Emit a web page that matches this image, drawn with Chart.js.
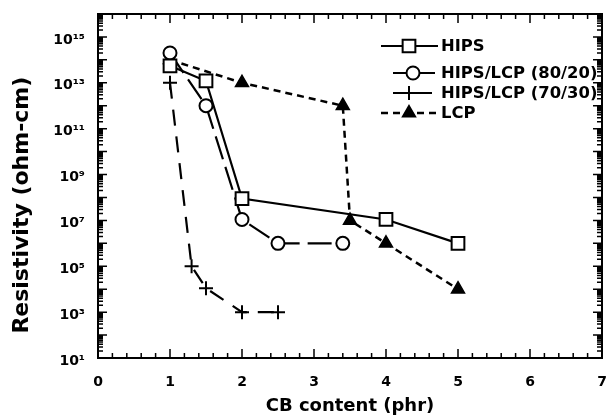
<!DOCTYPE html>
<html><head><meta charset="utf-8">
<script src="https://cdn.jsdelivr.net/npm/chart.js@4.4.0/dist/chart.umd.min.js"></script>
<style>html,body{margin:0;padding:0;background:#fff}canvas{display:block}</style>
</head><body>
<canvas id="c" width="613" height="417"></canvas>
<script>
// ---- data ----
const hipsX = [1, 1.5, 2, 4, 5];
const hipsY = [5.5e13, 1.2e13, 9e7, 1.1e7, 1e6];

const blend8020X = [1, 1.5, 2, 2.5, 3.4];
const blend8020Y = [2e14, 1e12, 1.1e7, 1e6, 1e6];

const blend7030X = [1, 1.3, 1.5, 2, 2.5];
const blend7030Y = [1e13, 1e5, 1.1e4, 1e3, 1e3];

const lcpX = [1, 2, 3.4, 3.5, 4, 5];
const lcpY = [1e14, 1e13, 1e12, 1e7, 1e6, 1e4];

const seriesLabels = ['HIPS', 'HIPS/LCP (80/20)', 'HIPS/LCP (70/30)', 'LCP'];
const xTickValues = [0, 1, 2, 3, 4, 5, 6, 7];
const yTickExponents = [1, 3, 5, 7, 9, 11, 13, 15];

// ---- helpers ----
const FONT = 'DejaVu Sans';
function sup(n){const m='⁰¹²³⁴⁵⁶⁷⁸⁹';return String(n).split('').map(d=>m[+d]).join('');}
const pts = (xs, ys) => xs.map((x,i)=>({x, y: ys[i]}));

function drawMarker(ctx, style, x, y, r, fill, lw){
  ctx.save();
  ctx.lineWidth = lw; ctx.strokeStyle = '#000'; ctx.fillStyle = fill; ctx.setLineDash([]);
  ctx.beginPath();
  if (style === 'rect'){ const s = r*Math.SQRT1_2; ctx.rect(x-s, y-s, 2*s, 2*s); ctx.fill(); ctx.stroke(); }
  else if (style === 'circle'){ ctx.arc(x, y, r, 0, Math.PI*2); ctx.fill(); ctx.stroke(); }
  else if (style === 'triangle'){
    for (let k=0;k<3;k++){ const a = k*2*Math.PI/3; const px = x+Math.sin(a)*r, py = y-Math.cos(a)*r; k?ctx.lineTo(px,py):ctx.moveTo(px,py);} 
    ctx.closePath(); ctx.fill(); ctx.stroke(); }
  else if (style === 'cross'){ ctx.moveTo(x-r,y); ctx.lineTo(x+r,y); ctx.moveTo(x,y-r); ctx.lineTo(x,y+r); ctx.stroke(); }
  ctx.restore();
}

const datasets = [
  {label: seriesLabels[0], data: pts(hipsX, hipsY), borderColor:'#000', borderWidth:2.2,
   pointStyle:'rect', pointRadius:9, pointBackgroundColor:'#fff', pointBorderColor:'#000', pointBorderWidth:2, legendDash:[]},
  {label: seriesLabels[1], data: pts(blend8020X, blend8020Y), borderColor:'#000', borderWidth:2.2, borderDash:[24,8],
   pointStyle:'circle', pointRadius:6.5, pointBackgroundColor:'#fff', pointBorderColor:'#000', pointBorderWidth:2, legendDash:[]},
  {label: seriesLabels[2], data: pts(blend7030X, blend7030Y), borderColor:'#000', borderWidth:2.2, borderDash:[16,11],
   pointStyle:'cross', pointRadius:7, pointBackgroundColor:'#000', pointBorderColor:'#000', pointBorderWidth:2, legendDash:[]},
  {label: seriesLabels[3], data: pts(lcpX, lcpY), borderColor:'#000', borderWidth:2.5, borderDash:[7,5],
   pointStyle:'triangle', pointRadius:7.5, pointBackgroundColor:'#000', pointBorderColor:'#000', pointBorderWidth:1.5, legendDash:[7,5]}
];

// legend layout (inside plot, upper right)
const legendLayout = {
  textX: 441,
  rows: [
    {y:46, x1:381, x2:438, mx:409, r:9},
    {y:73, x1:393, x2:435, mx:413, r:6.5},
    {y:93, x1:393, x2:432, mx:409, r:7},
    {y:113, x1:381, x2:438, mx:409, r:7.5}
  ]
};

const framePlugin = {
  id: 'frame',
  beforeDraw(chart){
    const ctx = chart.ctx; ctx.save(); ctx.fillStyle='#fff'; ctx.fillRect(0,0,chart.width,chart.height); ctx.restore();
  },
  afterDraw(chart){
    const ctx = chart.ctx, a = chart.chartArea, xs = chart.scales.x, ys = chart.scales.y;
    ctx.save();
    ctx.strokeStyle = '#000'; ctx.lineWidth = 2; ctx.setLineDash([]);
    ctx.strokeRect(a.left, a.top, a.right-a.left, a.bottom-a.top);
    ctx.lineWidth = 1.5;
    ctx.beginPath();
    // x ticks (inward, top and bottom), every 0.2
    for (let i=0;i<=35;i++){
      const v = i/5, px = xs.getPixelForValue(v), L = (i%5===0)?9:5;
      ctx.moveTo(px, a.bottom); ctx.lineTo(px, a.bottom-L);
      ctx.moveTo(px, a.top); ctx.lineTo(px, a.top+L);
    }
    // y ticks (inward, left and right), log minor ticks
    for (let e=1;e<=16;e++){
      for (let m=1;m<=9;m++){
        const v = m*Math.pow(10,e); if (v>ys.max*1.0001) break;
        const py = ys.getPixelForValue(v), L = (m===1)?9:5;
        ctx.moveTo(a.left, py); ctx.lineTo(a.left+L, py);
        ctx.moveTo(a.right, py); ctx.lineTo(a.right-L, py);
      }
    }
    ctx.stroke();

    // legend
    ctx.font = 'bold 16.4px "' + FONT + '"';
    ctx.textBaseline = 'middle'; ctx.textAlign = 'left'; ctx.fillStyle = '#000';
    chart.data.datasets.forEach((ds, i) => {
      const row = legendLayout.rows[i];
      ctx.save();
      ctx.lineWidth = ds.borderWidth; ctx.strokeStyle = '#000';
      ctx.setLineDash(ds.legendDash || []);
      ctx.beginPath(); ctx.moveTo(row.x1, row.y); ctx.lineTo(row.x2, row.y); ctx.stroke();
      ctx.restore();
      drawMarker(ctx, ds.pointStyle, row.mx, row.y, row.r, ds.pointBackgroundColor, ds.pointBorderWidth);
      ctx.fillText(ds.label, legendLayout.textX, row.y + 1);
    });
    ctx.restore();
  }
};

new Chart(document.getElementById('c'), {
  type: 'line',
  data: { datasets },
  options: {
    responsive: false, animation: false, devicePixelRatio: 1,
    layout: { padding: { top: 14, right: 3, left: 0, bottom: 0 } },
    plugins: { legend: { display: false }, tooltip: { enabled: false } },
    elements: { line: { tension: 0, fill: false } },
    scales: {
      x: {
        type: 'linear', min: 0, max: 7,
        afterBuildTicks(s){ s.ticks = xTickValues.map(v => ({value: v})); },
        ticks: { padding: 16, maxRotation: 0, color: '#000', font: { family: FONT, weight: 'bold', size: 14 } },
        grid: { display: false, drawTicks: false }, border: { display: false },
        title: { display: true, text: 'CB content (phr)', color: '#000', font: { family: FONT, weight: 'bold', size: 18 }, padding: { top: 0, bottom: 0 } },
        afterFit(s){ s.height = 59; s.paddingLeft = 0; s.paddingRight = 0; }
      },
      y: {
        type: 'logarithmic', min: 10, max: 1e16,
        afterBuildTicks(s){ s.ticks = yTickExponents.map(e => ({value: Math.pow(10, e)})); },
        ticks: { padding: 13, labelOffset: 3, color: '#000', font: { family: FONT, weight: 'bold', size: 14 },
                 callback: (v) => '10' + sup(Math.round(Math.log10(v))) },
        grid: { display: false, drawTicks: false }, border: { display: false },
        title: { display: true, text: 'Resistivity (ohm-cm)     ', color: '#000', font: { family: FONT, weight: 'bold', size: 22 }, padding: { top: 9, bottom: 0 } },
        afterFit(s){ s.width = 98; s.paddingTop = 0; s.paddingBottom = 0; }
      }
    }
  },
  plugins: [framePlugin]
});
</script>
</body></html>
